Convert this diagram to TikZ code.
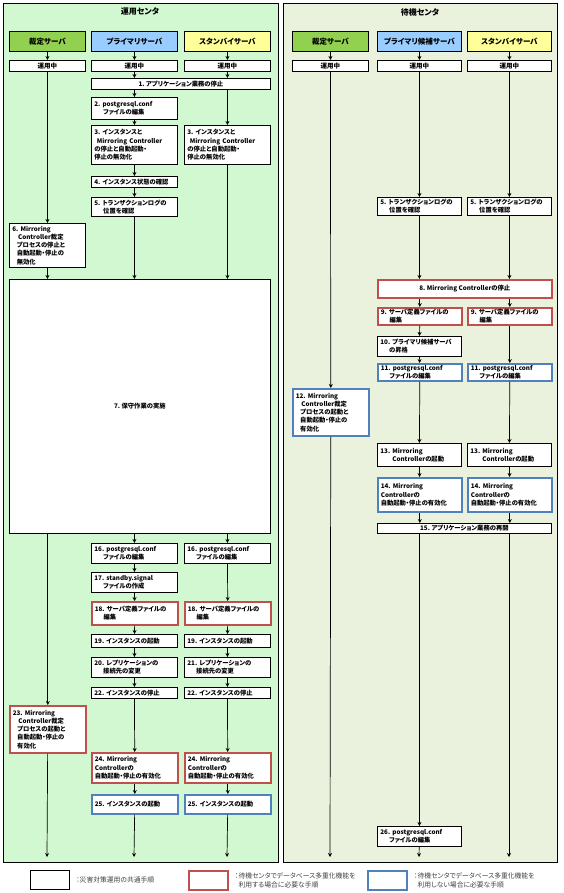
\documentclass[tikz,border=0pt]{standalone}
\usepackage{fontspec}
\setmainfont{Noto Sans CJK JP}[RawFeature={+palt}]
\usetikzlibrary{arrows.meta}
\definecolor{opGreen}{HTML}{D2F8D2}
\definecolor{sbOlive}{HTML}{EAF1DD}
\definecolor{hdGreen}{HTML}{92D050}
\definecolor{hdBlue}{HTML}{99CCFF}
\definecolor{hdYellow}{HTML}{FFFF99}
\definecolor{useRed}{HTML}{C0504D}
\definecolor{noBlue}{HTML}{4F81BD}
\definecolor{lgGray}{HTML}{404040}
\newcommand{\stepind}{\hspace*{1.4em}}
\begin{document}
\begin{tikzpicture}[
  x=1pt,y=-1pt,
  panel/.style={draw=black,line width=0.8pt},
  title/.style={font=\fontsize{8}{10}\selectfont\bfseries},
  head/.style={draw=black,line width=0.8pt,anchor=north west,minimum height=20pt,
    inner sep=0pt,font=\fontsize{7.5}{9}\selectfont\bfseries},
  run/.style={draw=black,fill=white,line width=0.8pt,anchor=north west,minimum height=11pt,
    inner sep=0pt,font=\fontsize{6.5}{8}\selectfont\bfseries},
  proc/.style={draw=black,fill=white,line width=0.8pt,anchor=north west,align=left,
    inner xsep=3pt,inner ysep=1pt,font=\fontsize{6.3}{8.2}\selectfont\bfseries},
  wide/.style={proc,align=center},
  redp/.style={proc,draw=useRed,line width=1.6pt},
  bluep/.style={proc,draw=noBlue,line width=1.6pt},
  cA/.style={minimum width=76pt,text width=70pt},
  cB/.style={minimum width=86pt,text width=80pt},
  cE/.style={minimum width=84pt,text width=78pt},
  lgtext/.style={anchor=west,align=left,text=lgGray,font=\fontsize{6.8}{9}\selectfont},
  arr/.style={-{Stealth[length=4pt,width=4pt]},line width=0.7pt}
]
\useasboundingbox (0,0) rectangle (563,893);

% centers
\draw[panel,fill=opGreen] (3,3) rectangle (278,862);
\draw[panel,fill=sbOlive] (283,3) rectangle (557,862);
\node[title] (opTitle) at (140,12) {運用センタ};
\node[title] (sbTitle) at (420,12) {待機センタ};

% operating center
\node[head,fill=hdGreen,minimum width=76pt] (hA) at (9,31) {裁定サーバ};
\node[head,fill=hdBlue,minimum width=86pt] (hB) at (91,31) {プライマリサーバ};
\node[head,fill=hdYellow,minimum width=86pt] (hC) at (184,31) {スタンバイサーバ};
\node[run,minimum width=76pt] (uA) at (9,60) {運用中};
\node[run,minimum width=86pt] (uB) at (91,60) {運用中};
\node[run,minimum width=86pt] (uC) at (184,60) {運用中};

\node[wide,minimum width=179pt,minimum height=11pt] (s1) at (91,78) {1.~アプリケーション業務の停止};
\node[proc,cB,minimum height=22pt] (s2) at (91,97) {2.~postgresql.conf\\\stepind ファイルの編集};
\node[proc,cB,minimum height=39pt] (s3b) at (91,125) {3.~インスタンスと\\\hspace*{0.4em}Mirroring~Controller\\の停止と自動起動・\\停止の無効化};
\node[proc,cB,minimum height=39pt] (s3c) at (184,125) {3.~インスタンスと\\\hspace*{0.4em}Mirroring~Controller\\の停止と自動起動・\\停止の無効化};
\node[proc,cB,minimum height=11pt] (s4) at (91,176) {4.~インスタンス状態の確認};
\node[proc,cB,minimum height=19pt] (s5) at (91,197) {5.~トランザクションログの\\\stepind 位置を確認};
\node[proc,cA,minimum height=44pt] (s6) at (9,223) {6.~Mirroring\\\hspace*{0.9em}Controller裁定\\\hspace*{0.7em}プロセスの停止と\\\hspace*{0.7em}自動起動・停止の\\\hspace*{0.7em}無効化};
\node[wide,minimum width=261pt,minimum height=254pt] (s7) at (9,279) {7.~保守作業の実施};

\node[proc,cB,minimum height=20pt] (s16b) at (91,543) {16.~postgresql.conf\\\stepind ファイルの編集};
\node[proc,cB,minimum height=20pt] (s16c) at (184,543) {16.~postgresql.conf\\\stepind ファイルの編集};
\node[proc,cB,minimum height=20pt] (s17) at (91,572) {17.~standby.signal\\\stepind ファイルの作成};
\node[redp,cB,minimum height=23pt] (s18b) at (91,601) {18.~サーバ定義ファイルの\\\stepind 編集};
\node[redp,cB,minimum height=23pt] (s18c) at (184,601) {18.~サーバ定義ファイルの\\\stepind 編集};
\node[proc,cB,minimum height=13pt] (s19b) at (91,634) {19.~インスタンスの起動};
\node[proc,cB,minimum height=13pt] (s19c) at (184,634) {19.~インスタンスの起動};
\node[proc,cB,minimum height=20pt] (s20) at (91,657) {20.~レプリケーションの\\\stepind 接続先の変更};
\node[proc,cB,minimum height=20pt] (s21) at (184,657) {21.~レプリケーションの\\\stepind 接続先の変更};
\node[proc,cB,minimum height=11pt] (s22b) at (91,687) {22.~インスタンスの停止};
\node[proc,cB,minimum height=11pt] (s22c) at (184,687) {22.~インスタンスの停止};
\node[redp,cA,minimum height=47pt] (s23) at (9,705) {23.~Mirroring\\\hspace*{0.9em}Controller裁定\\\hspace*{0.7em}プロセスの起動と\\\hspace*{0.7em}自動起動・停止の\\\hspace*{0.7em}有効化};
\node[redp,cB,minimum height=30pt] (s24b) at (91,752) {24.~Mirroring\\Controllerの\\自動起動・停止の有効化};
\node[redp,cB,minimum height=30pt] (s24c) at (184,752) {24.~Mirroring\\Controllerの\\自動起動・停止の有効化};
\node[bluep,cB,minimum height=19pt] (s25b) at (91,794) {25.~インスタンスの起動};
\node[bluep,cB,minimum height=19pt] (s25c) at (184,794) {25.~インスタンスの起動};
\coordinate (endA) at (47,857);
\coordinate (endB) at (134,857);
\coordinate (endC) at (227,857);

% standby center
\node[head,fill=hdGreen,minimum width=76pt] (hD) at (292,31) {裁定サーバ};
\node[head,fill=hdBlue,minimum width=84pt] (hE) at (377,31) {プライマリ候補サーバ};
\node[head,fill=hdYellow,minimum width=84pt] (hF) at (467,31) {スタンバイサーバ};
\node[run,minimum width=76pt] (uD) at (292,60) {運用中};
\node[run,minimum width=84pt] (uE) at (377,60) {運用中};
\node[run,minimum width=84pt] (uF) at (467,60) {運用中};

\node[proc,cE,minimum height=18pt] (r5e) at (377,197) {5.~トランザクションログの\\\stepind 位置を確認};
\node[proc,cE,minimum height=18pt] (r5f) at (467,197) {5.~トランザクションログの\\\stepind 位置を確認};
\node[redp,align=center,minimum width=174pt,minimum height=18pt] (r8) at (377,279) {8.~Mirroring Controllerの停止};
\node[redp,cE,minimum height=17pt] (r9e) at (377,307) {9.~サーバ定義ファイルの\\\stepind 編集};
\node[redp,cE,minimum height=17pt] (r9f) at (467,307) {9.~サーバ定義ファイルの\\\stepind 編集};
\node[proc,cE,minimum height=20pt] (r10) at (377,336) {10.~プライマリ候補サーバ\\\stepind の昇格};
\node[bluep,cE,minimum height=17pt] (r11e) at (377,363) {11.~postgresql.conf\\\stepind ファイルの編集};
\node[bluep,cE,minimum height=17pt] (r11f) at (467,363) {11.~postgresql.conf\\\stepind ファイルの編集};
\node[bluep,cA,minimum height=47pt] (r12) at (292,388) {12.~Mirroring\\\hspace*{0.9em}Controller裁定\\\hspace*{0.7em}プロセスの起動と\\\hspace*{0.7em}自動起動・停止の\\\hspace*{0.7em}有効化};
\node[proc,cE,minimum height=23pt] (r13e) at (377,443) {13.~Mirroring\\\hspace*{1.9em}Controllerの起動};
\node[proc,cE,minimum height=23pt] (r13f) at (467,443) {13.~Mirroring\\\hspace*{1.9em}Controllerの起動};
\node[bluep,cE,minimum height=34pt] (r14e) at (377,477) {14.~Mirroring\\Controllerの\\自動起動・停止の有効化};
\node[bluep,cE,minimum height=34pt] (r14f) at (467,477) {14.~Mirroring\\Controllerの\\自動起動・停止の有効化};
\node[wide,minimum width=174pt,minimum height=10pt,inner ysep=0pt] (r15) at (377,523) {15.~アプリケーション業務の再開};
\node[proc,cE,minimum height=20pt] (r26) at (377,826) {26.~postgresql.conf\\\stepind ファイルの編集};
\coordinate (endD) at (330,857);
\coordinate (endE) at (419,857);
\coordinate (endF) at (509,857);

% connectors, operating center
\foreach \a/\b in {hA/uA,uA/s6,s23/endA,
  hB/uB,s2/s3b,s3b/s4,s4/s5,s16b/s17,s17/s18b,s18b/s19b,s19b/s20,s20/s22b,s22b/s24b,s24b/s25b,s25b/endB,
  hC/uC,s16c/s18c,s18c/s19c,s19c/s21,s21/s22c,s22c/s24c,s24c/s25c,s25c/endC}
  \draw[arr] (\a) -- (\b);
\foreach \a in {uB,uC}
  \draw[arr] (\a) -- (\a |- s1.north);
\foreach \b in {s2,s3c}
  \draw[arr] (s1.south -| \b) -- (\b);
\foreach \a in {s6,s5,s3c}
  \draw[arr] (\a) -- (\a |- s7.north);
\foreach \b in {s23,s16b,s16c}
  \draw[arr] (s7.south -| \b) -- (\b);

% connectors, standby center
\foreach \a/\b in {hD/uD,uD/r12,r12/endD,
  hE/uE,uE/r5e,r9e/r10,r10/r11e,r11e/r13e,r13e/r14e,r26/endE,
  hF/uF,uF/r5f,r9f/r11f,r11f/r13f,r13f/r14f}
  \draw[arr] (\a) -- (\b);
\foreach \a in {r5e,r5f}
  \draw[arr] (\a) -- (\a |- r8.north);
\foreach \b in {r9e,r9f}
  \draw[arr] (r8.south -| \b) -- (\b);
\foreach \a in {r14e,r14f}
  \draw[arr] (\a) -- (\a |- r15.north);
\draw[arr] (r15.south -| r26) -- (r26);
\draw[arr] (r15.south -| endF) -- (endF);

% legend
\node[proc,minimum width=39pt,minimum height=19pt] (lgCommon) at (30,870) {};
\node[lgtext] (lgCommonTxt) at ([xshift=3pt]lgCommon.east) {：災害対策運用の共通手順};
\node[redp,minimum width=39pt,minimum height=19pt] (lgUse) at (188,870) {};
\node[lgtext] (lgUseTxt) at ([xshift=3pt]lgUse.east) {：待機センタでデータベース多重化機能を\\\phantom{：}利用する場合に必要な手順};
\node[bluep,minimum width=39pt,minimum height=19pt] (lgNoUse) at (367,870) {};
\node[lgtext] (lgNoUseTxt) at ([xshift=3pt]lgNoUse.east) {：待機センタでデータベース多重化機能を\\\phantom{：}利用しない場合に必要な手順};
\end{tikzpicture}
\end{document}
